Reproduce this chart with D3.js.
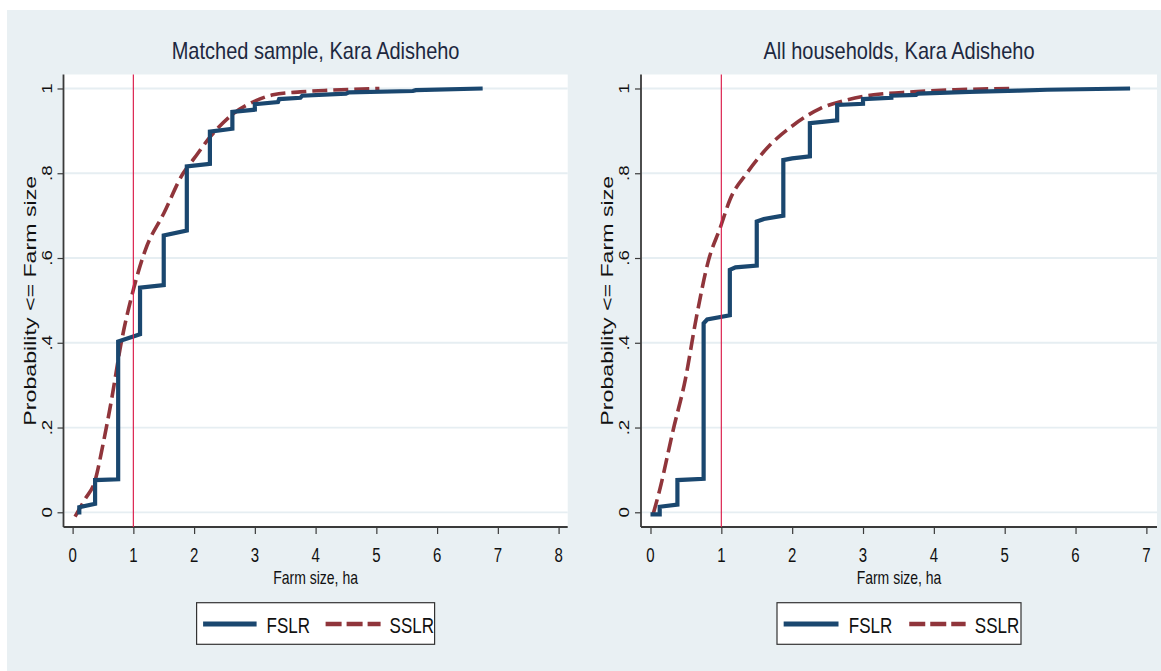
<!DOCTYPE html>
<html>
<head>
<meta charset="utf-8">
<script src="https://cdn.jsdelivr.net/npm/d3@7"></script>
<style>
  body { margin: 0; background: #ffffff; }
  svg { display: block; }
</style>
</head>
<body>
<svg id="chart" width="1161" height="671"></svg>
<script>
// ---- data ----
var titles = ["Matched sample, Kara Adisheho", "All households, Kara Adisheho"];
var seriesNames = ["FSLR", "SSLR"];
var yTicks = [0, 0.2, 0.4, 0.6, 0.8, 1];
var yTickLabels = ["0", ".2", ".4", ".6", ".8", "1"];
var matchedXTicks = [0, 1, 2, 3, 4, 5, 6, 7, 8];
var allXTicks = [0, 1, 2, 3, 4, 5, 6, 7];
var cutoffFarmSize = 1;

// matched sample, FSLR (empirical cdf, steps)
var matchedFslrX = [0.11, 0.11, 0.37, 0.37, 0.75, 0.75, 1.11, 1.11, 1.5, 1.5, 1.88, 1.88, 2.26, 2.26, 2.63, 2.63, 3.0, 3.0, 3.38, 3.4, 3.75, 3.78, 4.5, 4.55, 5.6, 5.65, 6.75];
var matchedFslrY = [-0.005, 0.012, 0.02, 0.076, 0.078, 0.403, 0.42, 0.53, 0.536, 0.653, 0.665, 0.816, 0.822, 0.898, 0.905, 0.945, 0.95, 0.963, 0.968, 0.975, 0.978, 0.983, 0.988, 0.991, 0.994, 0.996, 1.0];
// matched sample, SSLR
var matchedSslrX = [0.04, 0.2, 0.37, 0.5, 0.64, 0.8, 1.0, 1.2, 1.5, 1.82, 2.0, 2.26, 2.64, 3.0, 3.3, 3.75, 4.25, 5.05];
var matchedSslrY = [-0.01, 0.03, 0.075, 0.16, 0.265, 0.4, 0.525, 0.62, 0.705, 0.8, 0.835, 0.885, 0.94, 0.97, 0.985, 0.992, 0.996, 1.0];

// all households, FSLR
var allFslrX = [0.0, 0.13, 0.13, 0.38, 0.38, 0.75, 0.75, 0.8, 1.12, 1.12, 1.2, 1.5, 1.5, 1.6, 1.875, 1.875, 2.0, 2.25, 2.25, 2.635, 2.635, 3.0, 3.0, 3.4, 3.4, 3.75, 3.78, 4.5, 5.2, 5.6, 6.77];
var allFslrY = [-0.005, -0.005, 0.013, 0.018, 0.076, 0.079, 0.446, 0.455, 0.465, 0.572, 0.578, 0.582, 0.686, 0.692, 0.7, 0.831, 0.835, 0.84, 0.918, 0.925, 0.961, 0.964, 0.975, 0.978, 0.983, 0.985, 0.988, 0.992, 0.995, 0.997, 1.0];
// all households, SSLR
var allSslrX = [0.04, 0.13, 0.32, 0.49, 0.65, 0.82, 0.99, 1.12, 1.36, 1.69, 2.02, 2.4, 2.77, 3.15, 3.71, 4.3, 5.07];
var allSslrY = [-0.003, 0.053, 0.194, 0.312, 0.462, 0.595, 0.674, 0.737, 0.8, 0.867, 0.914, 0.953, 0.973, 0.985, 0.992, 0.997, 1.0];

// ---- look ----
var navy = "#1a476f";
var maroon = "#90353b";
var bg = "#e9f0f3";
var grid = "#e6eef2";
var font = "'Liberation Sans', Arial, sans-serif";

function zip(xs, ys) {
  return xs.map(function(x, i) { return { x: x, y: ys[i] }; });
}

// the picture is stretched vertically, so text is drawn tall
function tallText(sel, x, y, size, k, str, anchor, color) {
  return sel.append("text")
    .attr("transform", "translate(" + x + "," + y + ") scale(1," + k + ")")
    .attr("text-anchor", anchor || "start")
    .style("font-family", font).style("font-size", size + "px")
    .attr("fill", color || "#111")
    .text(str);
}

var panels = [
  { title: titles[0], left: 63.5, right: 567.7, xDomain: [-0.15, 8.15], xTicks: matchedXTicks,
    fslr: zip(matchedFslrX, matchedFslrY), sslr: zip(matchedSslrX, matchedSslrY), legendW: 238 },
  { title: titles[1], left: 641, right: 1157, xDomain: [-0.134, 7.15], xTicks: allXTicks,
    fslr: zip(allFslrX, allFslrY), sslr: zip(allSslrX, allSslrY), legendW: 244 }
];

var svg = d3.select("#chart");

svg.append("rect")
  .attr("x", 7).attr("y", 10)
  .attr("width", 1161 - 7).attr("height", 671 - 10)
  .attr("fill", bg);

var plotTop = 74.5, plotBottom = 527;

panels.forEach(function(p, pi) {
  var x = d3.scaleLinear().domain(p.xDomain).range([p.left, p.right]);
  var y = d3.scaleLinear().domain([-0.0347, 1.033]).range([plotBottom, plotTop]);
  var cx = (p.left + p.right) / 2;
  var g = svg.append("g");

  // plot region
  g.append("rect")
    .attr("x", p.left).attr("y", plotTop)
    .attr("width", p.right - p.left).attr("height", plotBottom - plotTop)
    .attr("fill", "#ffffff");

  // gridlines
  g.selectAll(".grid").data(yTicks).enter().append("line")
    .attr("x1", p.left + 1).attr("x2", p.right)
    .attr("y1", function(d) { return y(d); })
    .attr("y2", function(d) { return y(d); })
    .attr("stroke", grid).attr("stroke-width", 1.8);

  // title
  tallText(g, cx, 59, 20, 1.2, p.title, "middle", "#1d2840");

  // y axis
  var yAxis = d3.axisLeft(y).tickValues(yTicks).tickSize(6).tickFormat("");
  var ya = g.append("g").attr("transform", "translate(" + p.left + ",0)").call(yAxis);
  ya.select(".domain").remove();
  ya.selectAll(".tick line").attr("stroke", "#3a3a3a").attr("stroke-width", 1.2);
  g.append("line")
    .attr("x1", p.left).attr("x2", p.left)
    .attr("y1", plotTop).attr("y2", plotBottom)
    .attr("stroke", "#3a3a3a").attr("stroke-width", 1.8);

  g.selectAll(".ylab").data(yTicks).enter().append("text")
    .attr("transform", function(d) {
      return "translate(" + (p.left - 12) + "," + y(d) + ") scale(1,1.25) rotate(-90)";
    })
    .attr("text-anchor", "middle")
    .style("font-family", font).style("font-size", "15px")
    .attr("fill", "#111")
    .text(function(d, i) { return yTickLabels[i]; });

  g.append("text")
    .attr("transform", "translate(" + (p.left - 28) + "," + ((plotTop + plotBottom) / 2) + ") scale(1,1.45) rotate(-90)")
    .attr("text-anchor", "middle")
    .style("font-family", font).style("font-size", "16px")
    .attr("fill", "#111")
    .text("Probability <= Farm size");

  // x axis
  var xAxis = d3.axisBottom(x).tickValues(p.xTicks).tickSize(7).tickFormat("");
  var xa = g.append("g").attr("transform", "translate(0," + plotBottom + ")").call(xAxis);
  xa.select(".domain").remove();
  xa.selectAll(".tick line").attr("stroke", "#3a3a3a").attr("stroke-width", 1.2);
  g.append("line")
    .attr("x1", p.left).attr("x2", p.right)
    .attr("y1", plotBottom).attr("y2", plotBottom)
    .attr("stroke", "#3a3a3a").attr("stroke-width", 1.8);

  p.xTicks.forEach(function(d) {
    tallText(g, x(d), 562, 15, 1.4, d3.format("d")(d), "middle");
  });

  tallText(g, cx, 584, 14, 1.3, "Farm size, ha", "middle");

  // series
  var line = d3.line().x(function(d) { return x(d.x); }).y(function(d) { return y(d.y); });

  g.append("path")
    .datum(p.sslr)
    .attr("d", line.curve(d3.curveMonotoneX))
    .attr("fill", "none")
    .attr("stroke", maroon).attr("stroke-width", 3.6)
    .attr("stroke-dasharray", "15,6");

  g.append("path")
    .datum(p.fslr)
    .attr("d", line.curve(d3.curveLinear))
    .attr("fill", "none")
    .attr("stroke", navy).attr("stroke-width", 4.2)
    .attr("stroke-linejoin", "miter");

  // reference line at 1 ha
  g.append("line")
    .attr("x1", x(cutoffFarmSize)).attr("x2", x(cutoffFarmSize))
    .attr("y1", plotTop).attr("y2", plotBottom)
    .attr("stroke", "#dc2350").attr("stroke-width", 1.2);

  // legend
  var lx = cx - p.legendW / 2, ly = 602.7, lh = 41.6;
  var lg = g.append("g");
  lg.append("rect")
    .attr("x", lx).attr("y", ly).attr("width", p.legendW).attr("height", lh)
    .attr("fill", "#ffffff").attr("stroke", "#333").attr("stroke-width", 1.2);
  var k = p.legendW / 238;
  lg.append("line")
    .attr("x1", lx + 6.5 * k).attr("x2", lx + 60 * k)
    .attr("y1", 624).attr("y2", 624)
    .attr("stroke", navy).attr("stroke-width", 5);
  tallText(lg, lx + 70 * k, 633, 17, 1.3, seriesNames[0], "start");
  lg.append("line")
    .attr("x1", lx + 129 * k).attr("x2", lx + 184 * k)
    .attr("y1", 624).attr("y2", 624)
    .attr("stroke", maroon).attr("stroke-width", 4.5)
    .attr("stroke-dasharray", "16,5");
  tallText(lg, lx + 193 * k, 633, 17, 1.3, seriesNames[1], "start");
});
</script>
</body>
</html>
